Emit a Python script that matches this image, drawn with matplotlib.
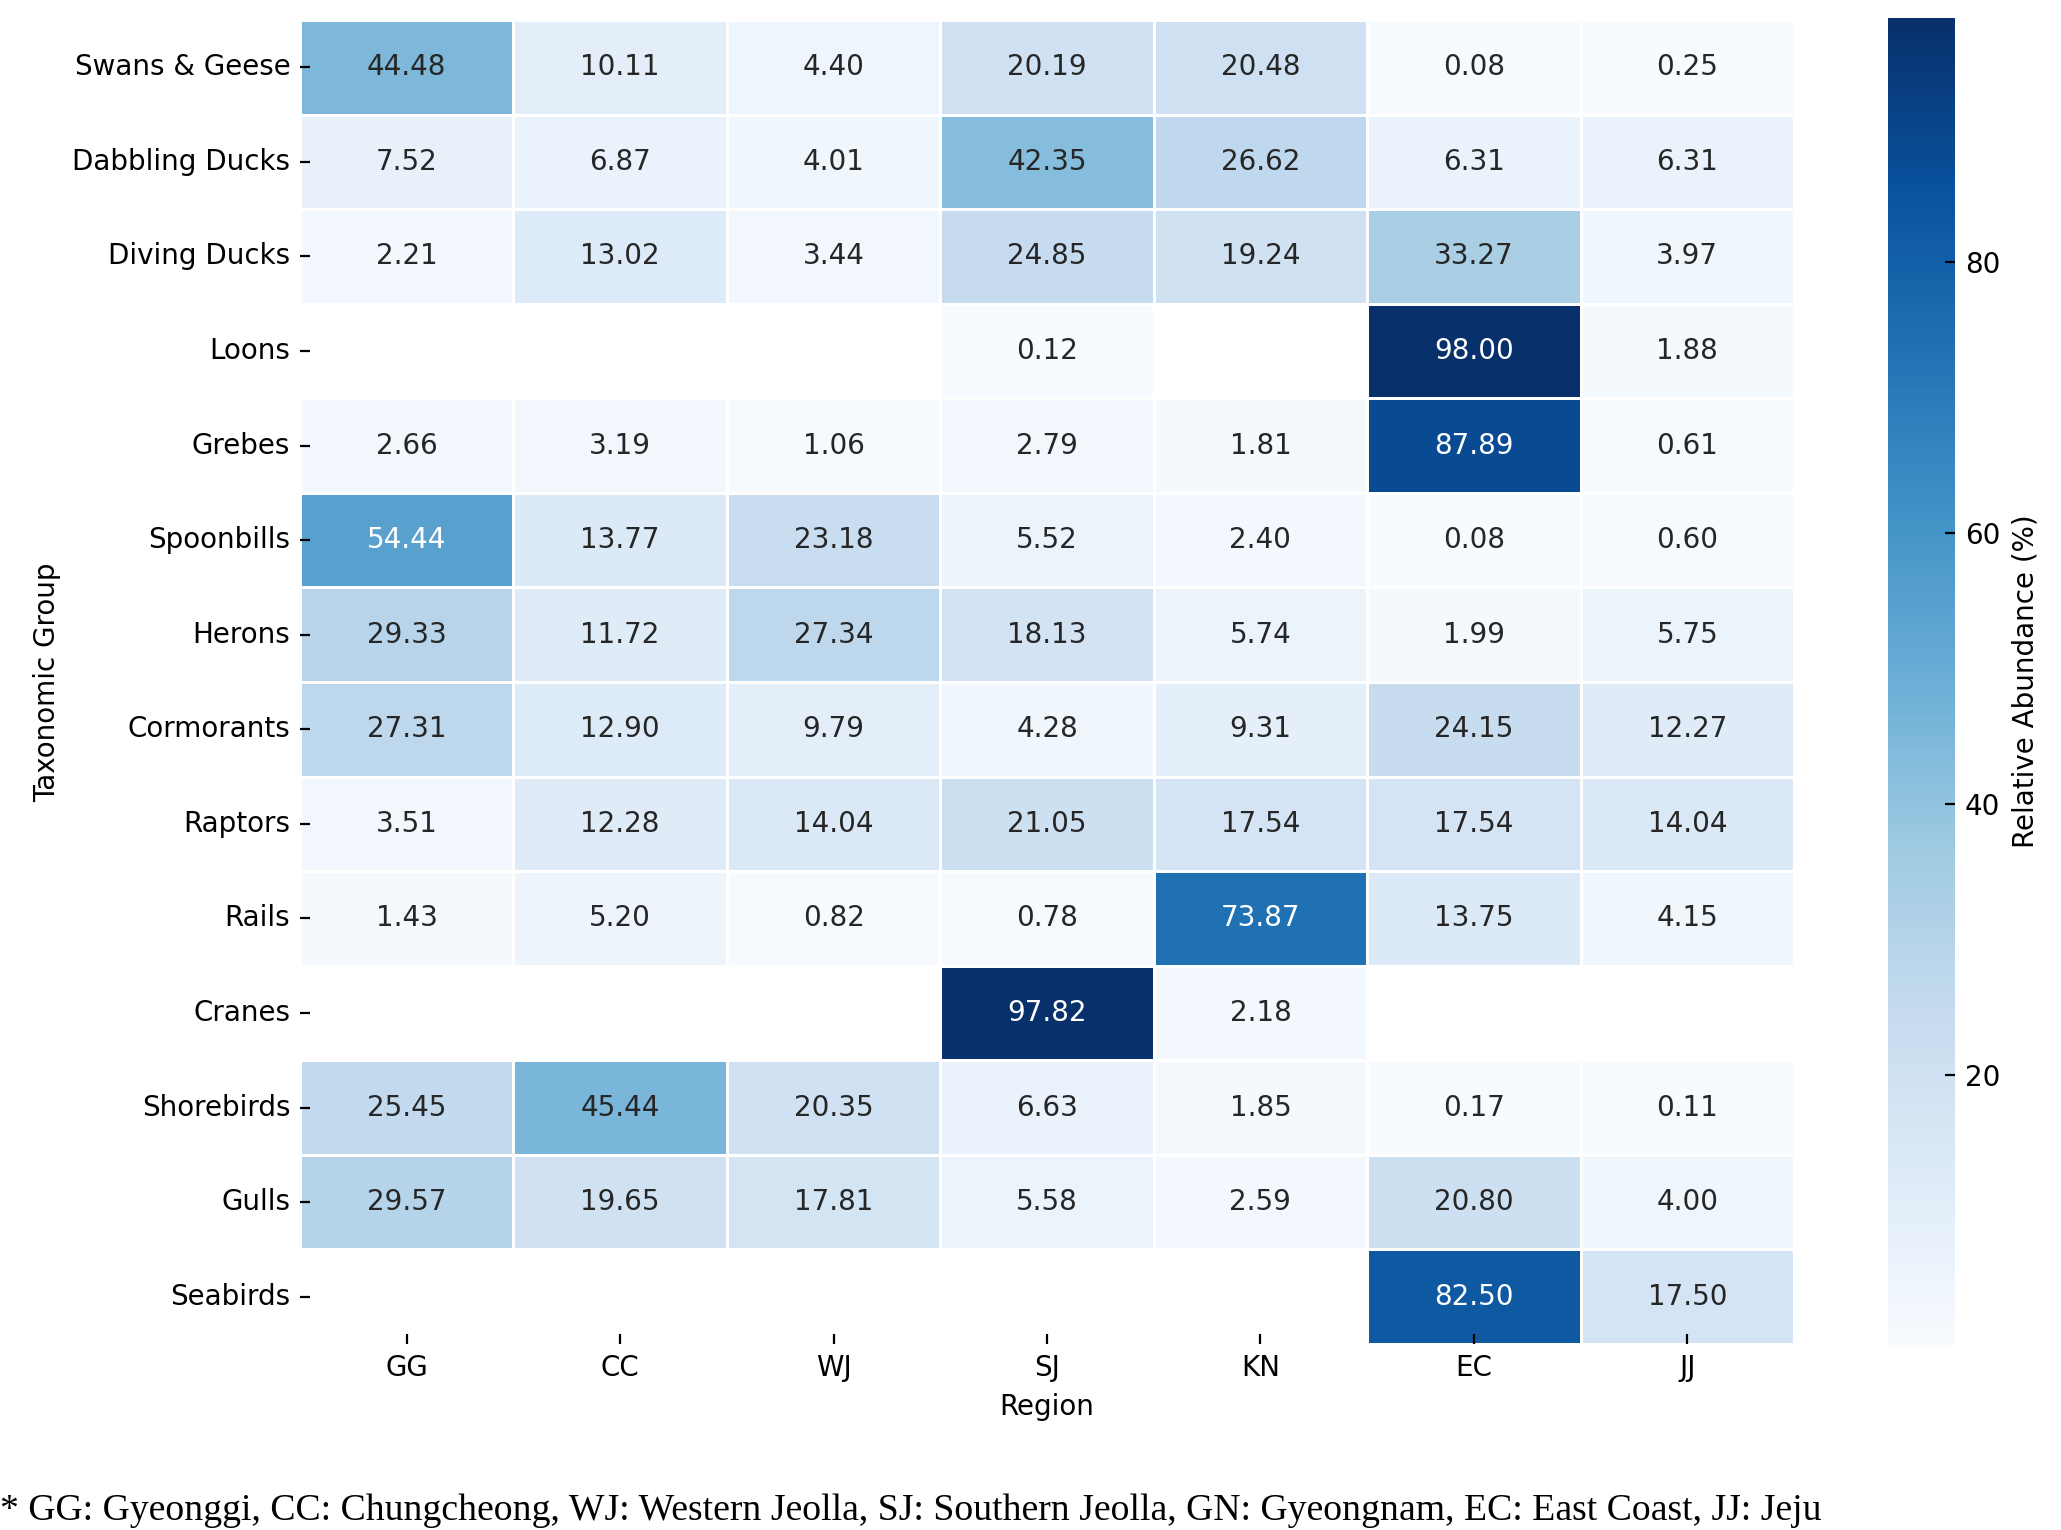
"""
relative abundance heatmap by region
"""

import matplotlib
matplotlib.use("Agg")
import matplotlib.pyplot as plt
import numpy as np
import pandas as pd
import seaborn as sns

plt.rcParams['font.family'] = ['DejaVu Sans']

nan = np.nan

groups = ['Swans & Geese', 'Dabbling Ducks', 'Diving Ducks', 'Loons', 'Grebes',
          'Spoonbills', 'Herons', 'Cormorants', 'Raptors', 'Rails', 'Cranes',
          'Shorebirds', 'Gulls', 'Seabirds']
regions = ['GG', 'CC', 'WJ', 'SJ', 'KN', 'EC', 'JJ']

swans = [44.48, 10.11, 4.40, 20.19, 20.48, 0.08, 0.25]
dabbling = [7.52, 6.87, 4.01, 42.35, 26.62, 6.31, 6.31]
diving = [2.21, 13.02, 3.44, 24.85, 19.24, 33.27, 3.97]
loons = [nan, nan, nan, 0.12, nan, 98.00, 1.88]
grebes = [2.66, 3.19, 1.06, 2.79, 1.81, 87.89, 0.61]
spoonbills = [54.44, 13.77, 23.18, 5.52, 2.40, 0.08, 0.60]
herons = [29.33, 11.72, 27.34, 18.13, 5.74, 1.99, 5.75]
cormorants = [27.31, 12.90, 9.79, 4.28, 9.31, 24.15, 12.27]
raptors = [3.51, 12.28, 14.04, 21.05, 17.54, 17.54, 14.04]
rails = [1.43, 5.20, 0.82, 0.78, 73.87, 13.75, 4.15]
cranes = [nan, nan, nan, 97.82, 2.18, nan, nan]
shorebirds = [25.45, 45.44, 20.35, 6.63, 1.85, 0.17, 0.11]
gulls = [29.57, 19.65, 17.81, 5.58, 2.59, 20.80, 4.00]
seabirds = [nan, nan, nan, nan, nan, 82.50, 17.50]

df = pd.DataFrame([swans, dabbling, diving, loons, grebes, spoonbills, herons,
                   cormorants, raptors, rails, cranes, shorebirds, gulls, seabirds],
                  index=groups, columns=regions)

W, H = 2061, 1530
fig = plt.figure(figsize=(W / 200, H / 200), dpi=200)
ax = fig.add_axes([300 / W, (H - 1344) / H, (1794 - 300) / W, (1344 - 20) / H])
cax = fig.add_axes([1888 / W, (H - 1345) / H, 67 / W, (1345 - 18) / H])

sns.heatmap(df, ax=ax, cbar_ax=cax, cmap='Blues', annot=True, fmt='.2f',
            linewidths=1, linecolor='white', annot_kws={'fontsize': 10},
            cbar_kws={'label': 'Relative Abundance (%)'})

ax.set_xlabel('Region', fontsize=10)
ax.set_ylabel('Taxonomic Group', fontsize=10)
ax.tick_params(axis='x', rotation=0, labelsize=10, direction='in')
ax.tick_params(axis='y', rotation=0, labelsize=10, direction='in')
cax.tick_params(labelsize=10, direction='in')

fig.text(0.0, 10 / H, '* GG: Gyeonggi, CC: Chungcheong, WJ: Western Jeolla, SJ: Southern Jeolla, '
         'GN: Gyeongnam, EC: East Coast, JJ: Jeju',
         family='Liberation Serif', fontsize=13.6, ha='left', va='baseline')

fig.savefig('out.png', dpi=200)
